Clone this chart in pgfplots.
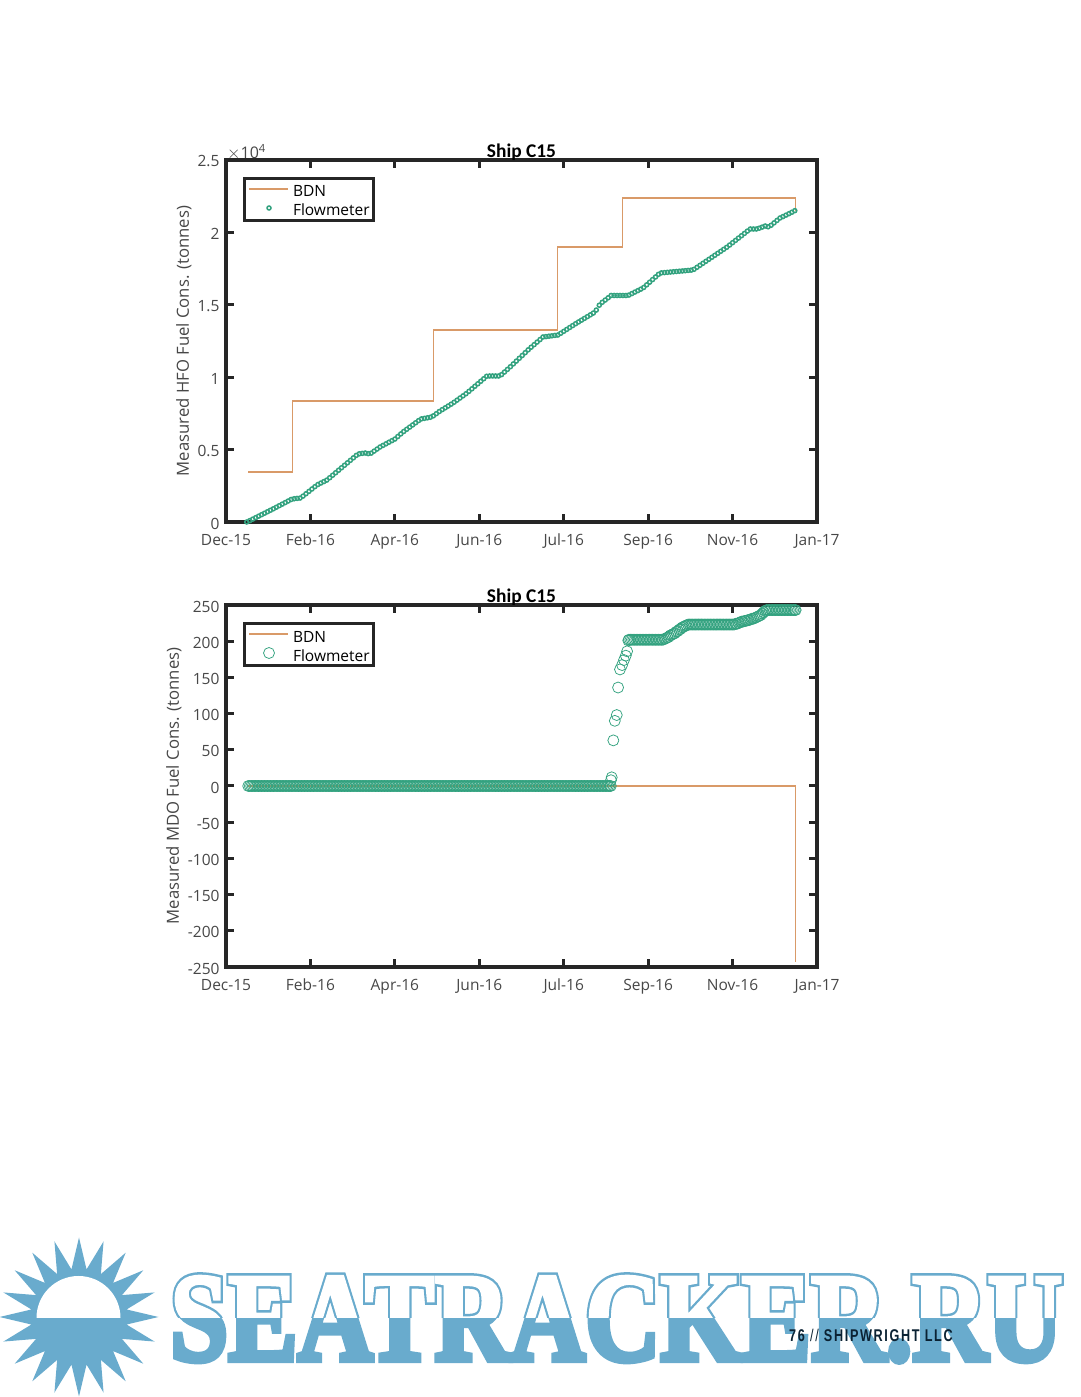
\documentclass[border=0pt]{standalone}
\usepackage{fontspec}
\usepackage{graphicx}
\usepackage{pgfplots}
\pgfplotsset{compat=1.18}
\usetikzlibrary{shapes.geometric}
\setmainfont{Open Sans}
\newfontfamily\titlefont{Carlito}
\newfontfamily\wmfill{Liberation Serif}[FakeBold=3]
\newfontfamily\wmsolid{Liberation Serif}[FakeBold=5]
\newfontfamily\wmedge{Liberation Serif}[FakeBold=7]
\newfontfamily\footfont{Liberation Sans}[LetterSpace=13]

\definecolor{bdn}{HTML}{D99A68}
\definecolor{flow}{HTML}{33A27F}
\definecolor{axdark}{HTML}{262626}
\definecolor{wm}{HTML}{69ABCD}
\definecolor{footink}{HTML}{0B2233}

% x is days from the left edge of the axis (about 15 Dec 2015), one tick every 57 days
\pgfplotsset{
    shipaxis/.style={
        scale only axis,
        width=591pt,
        height=362pt,
        anchor=south west,
        xmin=0, xmax=399,
        xtick={0,57,114,171,228,285,342,399},
        xticklabels={Dec-15,Feb-16,Apr-16,Jun-16,Jul-16,Sep-16,Nov-16,Jan-17},
        scaled y ticks=false,
        axis line style={line width=3.2pt,color=axdark},
        tick style={line width=3pt,color=axdark},
        major tick length=8pt,
        tick align=inside,
        ticks=major,
        axis on top,
        tick label style={font=\fontsize{15.5}{18}\selectfont,color=axdark!85!white},
        xticklabel style={yshift=-8pt,text height=12pt,text depth=3pt},
        yticklabel style={xshift=-3pt,yshift=-1.5pt},
        label style={font=\fontsize{16.7}{19}\selectfont,color=axdark!85!white},
        title style={font=\titlefont\bfseries\fontsize{19.4}{21}\selectfont,color=black,
            at={(0.5,1)},anchor=base,yshift=-4pt},
        legend cell align=left,
        legend style={
            at={(0.0288,0.953)},anchor=north west,
            draw=axdark,line width=3pt,
            font=\fontsize{15.5}{18}\selectfont,
            inner xsep=2pt,inner ysep=2pt,
            row sep=0pt,
            nodes={inner sep=1.5pt,text height=15pt,text depth=1pt},
        },
    },
    bdnline/.style={color=bdn,line width=1.1pt,no markers,
        legend image code/.code={
            \path (0pt,0pt) (42pt,0pt);
            \draw[##1] (1pt,1pt)--(40pt,1pt);}},
}

\begin{document}
\begin{tikzpicture}[x=1pt,y=1pt]
\path[use as bounding box] (0,0) rectangle (1080,1397);

% top panel
\begin{axis}[
    shipaxis,
    at={(226pt,875pt)},
    title={Ship C15},
    ylabel={Measured HFO Fuel Cons. (tonnes)},
    ymin=0, ymax=25000,
    ytick={0,5000,10000,15000,20000,25000},
    yticklabels={0,0.5,1,1.5,2,2.5},
    ylabel style={at={(axis description cs:0,0.5)},anchor=south,yshift=31pt},
]
\addplot[bdnline] coordinates {
    (14.9,3453) (44.6,3453) (44.6,8356) (139.8,8356) (139.8,13260)
    (223.5,13260) (223.5,18990) (267.4,18990) (267.4,22375) (384.2,22375) (384.2,21500)
};
\addlegendentry{BDN}
\addplot[only marks,mark=o,mark size=2pt,color=flow,mark options={line width=1.5pt},
    legend image code/.code={
        \path (0pt,0pt) (42pt,0pt);
        \draw[only marks,mark=o,mark size=2pt,color=flow,line width=0.4pt] plot coordinates {(21pt,1pt)};}]
coordinates {
(14,0)(16,92)(18,195)(20,298)(22,400)(24,503)(26,605)(28,708)(30,811)
(32,914)(34,1021)(36,1128)(38,1235)(40,1342)(42,1449)(44,1556)
(46,1605)(48,1628)(50,1652)(52,1788)(54,1951)(56,2114)(58,2277)(60,2440)
(62,2585)(64,2687)(66,2788)(68,2890)(70,3055)(72,3228)(74,3401)(76,3574)
(78,3746)(80,3917)(82,4088)(84,4259)(86,4431)(88,4602)(90,4709)(92,4738)
(94,4764)(96,4722)(98,4753)(100,4895)(102,5037)(104,5180)(106,5289)(108,5398)
(110,5508)(112,5617)(114,5727)(116,5902)(118,6081)(120,6252)(122,6402)(124,6552)
(126,6701)(128,6851)(130,7001)(132,7122)(134,7159)(136,7197)(138,7234)(140,7332)
(142,7480)(144,7629)(146,7760)(148,7885)(150,8010)(152,8136)(154,8269)(156,8416)
(158,8563)(160,8710)(162,8857)(164,9022)(166,9196)(168,9370)(170,9544)(172,9718)
(174,9892)(176,10066)(178,10083)(180,10083)(182,10083)(184,10083)(186,10174)(188,10356)
(190,10538)(192,10723)(194,10917)(196,11111)(198,11305)(200,11499)(202,11693)(204,11889)
(206,12070)(208,12246)(210,12422)(212,12598)(214,12776)(216,12803)(218,12830)(220,12857)
(222,12884)(224,12911)(226,13033)(228,13165)(230,13297)(232,13429)(234,13561)(236,13692)
(238,13815)(240,13938)(242,14061)(244,14184)(246,14307)(248,14430)(250,14637)(252,14971)
(254,15172)(256,15328)(258,15484)(260,15642)(262,15642)(264,15642)(266,15642)(268,15642)
(270,15642)(272,15672)(274,15774)(276,15876)(278,15977)(280,16079)(282,16196)(284,16378)
(286,16560)(288,16741)(290,16923)(292,17105)(294,17205)(296,17224)(298,17242)(300,17261)
(302,17280)(304,17298)(306,17317)(308,17335)(310,17354)(312,17373)(314,17391)(316,17451)
(318,17589)(320,17727)(322,17865)(324,18003)(326,18141)(328,18279)(330,18417)(332,18555)
(334,18693)(336,18831)(338,18969)(340,19127)(342,19288)(344,19448)(346,19608)(348,19769)
(350,19929)(352,20090)(354,20234)(356,20234)(358,20234)(360,20290)(362,20366)(364,20441)
(366,20388)(368,20490)(370,20658)(372,20826)(374,20994)(376,21090)(378,21190)(380,21290)
(382,21390)(384,21500)
};
\addlegendentry{Flowmeter}
\end{axis}
\node[anchor=south west,inner sep=0pt,font=\fontsize{16}{18}\selectfont,color=axdark!85!white]
    at (227,1237) {$\times$10\textsuperscript{4}};

% bottom panel
\begin{axis}[
    shipaxis,
    at={(226pt,430pt)},
    title={Ship C15},
    ylabel={Measured MDO Fuel Cons. (tonnes)},
    ymin=-250, ymax=250,
    ytick={-250,-200,-150,-100,-50,0,50,100,150,200,250},
    yticklabels={-250,-200,-150,-100,-50,0,50,100,150,200,250},
    ylabel style={at={(axis description cs:0,0.5)},anchor=south,yshift=41pt},
]
\addplot[bdnline] coordinates {
    (14.9,0) (384.2,0) (384.2,-243)
};
\addlegendentry{BDN}
\addplot[only marks,mark=o,mark size=5.5pt,color=flow,mark options={line width=0.75pt},
    legend image code/.code={
        \path (0pt,0pt) (42pt,0pt);
        \draw[only marks,mark=o,mark size=5.5pt,color=flow,line width=0.6pt] plot coordinates {(21pt,1pt)};}]
coordinates {
(15,0)(16,0)(17,0)(18,0)(19,0)(20,0)(21,0)(22,0)(23,0)(24,0)(25,0)(26,0)(27,0)(28,0)(29,0)(30,0)
(31,0)(32,0)(33,0)(34,0)(35,0)(36,0)(37,0)(38,0)(39,0)(40,0)(41,0)(42,0)(43,0)(44,0)(45,0)(46,0)
(47,0)(48,0)(49,0)(50,0)(51,0)(52,0)(53,0)(54,0)(55,0)(56,0)(57,0)(58,0)(59,0)(60,0)(61,0)(62,0)
(63,0)(64,0)(65,0)(66,0)(67,0)(68,0)(69,0)(70,0)(71,0)(72,0)(73,0)(74,0)(75,0)(76,0)(77,0)(78,0)
(79,0)(80,0)(81,0)(82,0)(83,0)(84,0)(85,0)(86,0)(87,0)(88,0)(89,0)(90,0)(91,0)(92,0)(93,0)(94,0)
(95,0)(96,0)(97,0)(98,0)(99,0)(100,0)(101,0)(102,0)(103,0)(104,0)(105,0)(106,0)(107,0)(108,0)
(109,0)(110,0)(111,0)(112,0)(113,0)(114,0)(115,0)(116,0)(117,0)(118,0)(119,0)(120,0)(121,0)(122,0)
(123,0)(124,0)(125,0)(126,0)(127,0)(128,0)(129,0)(130,0)(131,0)(132,0)(133,0)(134,0)(135,0)(136,0)
(137,0)(138,0)(139,0)(140,0)(141,0)(142,0)(143,0)(144,0)(145,0)(146,0)(147,0)(148,0)(149,0)(150,0)
(151,0)(152,0)(153,0)(154,0)(155,0)(156,0)(157,0)(158,0)(159,0)(160,0)(161,0)(162,0)(163,0)(164,0)
(165,0)(166,0)(167,0)(168,0)(169,0)(170,0)(171,0)(172,0)(173,0)(174,0)(175,0)(176,0)(177,0)(178,0)
(179,0)(180,0)(181,0)(182,0)(183,0)(184,0)(185,0)(186,0)(187,0)(188,0)(189,0)(190,0)(191,0)(192,0)
(193,0)(194,0)(195,0)(196,0)(197,0)(198,0)(199,0)(200,0)(201,0)(202,0)(203,0)(204,0)(205,0)(206,0)
(207,0)(208,0)(209,0)(210,0)(211,0)(212,0)(213,0)(214,0)(215,0)(216,0)(217,0)(218,0)(219,0)(220,0)
(221,0)(222,0)(223,0)(224,0)(225,0)(226,0)(227,0)(228,0)(229,0)(230,0)(231,0)(232,0)(233,0)(234,0)
(235,0)(236,0)(237,0)(238,0)(239,0)(240,0)(241,0)(242,0)(243,0)(244,0)(245,0)(246,0)(247,0)(248,0)
(249,0)(250,0)(251,0)(252,0)(253,0)(254,0)(255,0)(256,0)(257,0)(258,0)(259,0)(259.8,0)
(259.9,8)(260.4,12)(261.5,63)(262.5,90)(263.8,98)(264.7,136)(266,161)(267.4,167)(268.7,174)
(269.9,180)(270.8,186)
(271.6,201)(272,202)(273,202)(274,202)(275,202)(276,202)(277,202)(278,202)(279,202)(280,202)
(281,202)(282,202)(283,202)(284,202)(285,202)(286,202)(287,202)(288,202)(289,202)(290,202)
(291,202)(292,202)(293,202)(294,202)(295,202)(296,203)(297,204)(298,205)(299,206)(300,208)
(301,209)(302,210)(303,211)(304,213)(305,214)(306,216)(307,217)(308,219)(309,220)(310,221)
(311,222)(312,223)(313,223)(314,223)(315,223)(316,223)(317,223)(318,223)(319,223)(320,223)
(321,223)(322,223)(323,223)(324,223)(325,223)(326,223)(327,223)(328,223)(329,223)(330,223)
(331,223)(332,223)(333,223)(334,223)(335,223)(336,223)(337,223)(338,223)(339,223)(340,223)
(341,223)(342,223)(343,223)(344,224)(345,224)(346,225)(347,226)(348,227)(349,227)(350,228)
(351,228)(352,229)(353,229)(354,230)(355,231)(356,231)(357,232)(358,233)(359,234)(360,235)
(361,236)(362,238)(363,240)(364,242)(365,243)(366,243)(367,243)(368,243)(369,243)(370,243)
(371,243)(372,243)(373,243)(374,243)(375,243)(376,243)(377,243)(378,243)(379,243)(380,243)
(381,243)(382,243)(383,243)(384,243)(384.6,243)
};
\addlegendentry{Flowmeter}
\end{axis}

% sun logo and overprinted site name along the bottom of the page
\node[star,star points=20,star point ratio=1.65,minimum size=159pt,inner sep=0pt,
    fill=wm,draw=none] at (79,80) {};
\begin{scope}
    \clip (20,79) rectangle (140,130);
    \fill[white] (78.5,79) circle [radius=42];
\end{scope}
\begin{scope}
    \clip (165,20) rectangle (1075,79);
    \node[anchor=base west,inner sep=0pt,color=wm] at (170,37)
        {\scalebox{.827}[1]{\fontsize{126}{126}\selectfont\wmsolid\bfseries SEATRACKER.RU}};
\end{scope}
\begin{scope}
    \clip (165,79) rectangle (1075,140);
    \node[anchor=base west,inner sep=0pt,color=wm] at (170,37)
        {\scalebox{.827}[1]{\fontsize{126}{126}\selectfont\wmedge\bfseries SEATRACKER.RU}};
    \node[anchor=base west,inner sep=0pt,color=white] at (170,37)
        {\scalebox{.827}[1]{\fontsize{126}{126}\selectfont\wmfill\bfseries SEATRACKER.RU}};
\end{scope}
\node[anchor=base west,inner sep=0pt,color=footink] at (789,55)
    {\scalebox{.745}[1]{\fontsize{17}{19}\selectfont\footfont\bfseries 76 \mdseries//\bfseries{} SHIPWRIGHT LLC}};
\end{tikzpicture}
\end{document}
